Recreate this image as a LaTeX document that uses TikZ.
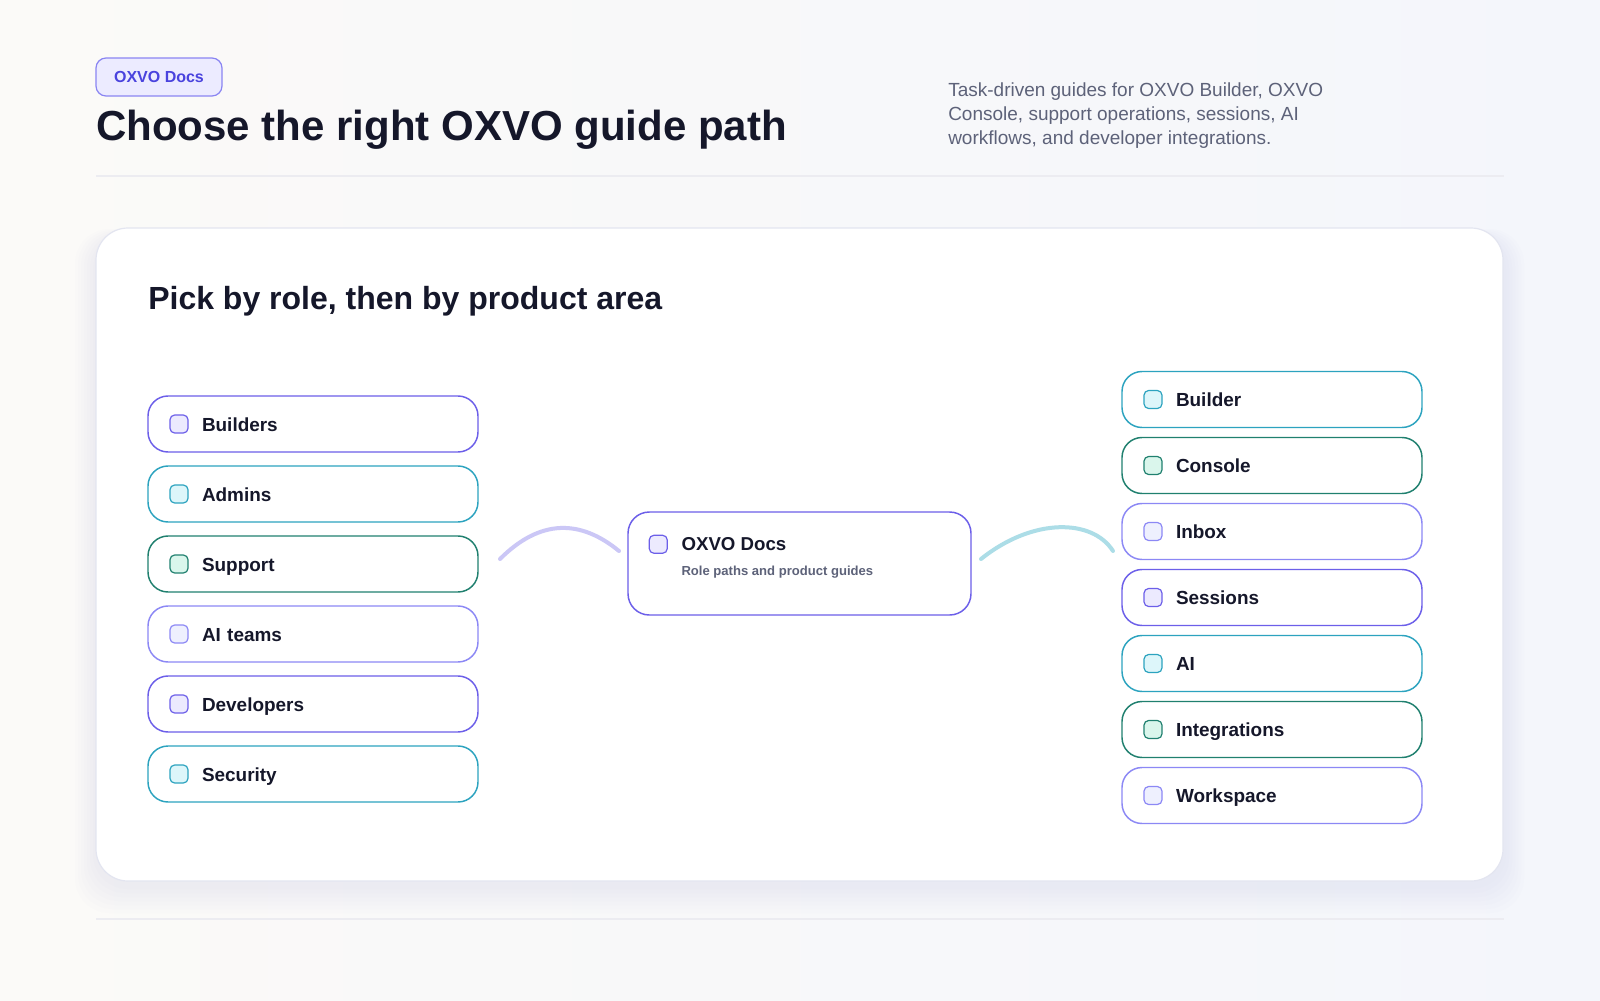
\documentclass[tikz,border=0pt]{standalone}
\usepackage{fontspec}
\setmainfont{Liberation Sans}
\usetikzlibrary{positioning}

\definecolor{ink}{HTML}{15172A}
\definecolor{muted}{HTML}{5D6279}
\definecolor{bgWarm}{HTML}{FBFAF8}
\definecolor{bgCool}{HTML}{F4F6FB}
\definecolor{hair}{HTML}{ECECF1}
\definecolor{cardLine}{HTML}{E3E5F0}
\definecolor{cardShade}{HTML}{C9CCE6}
\definecolor{badgeFill}{HTML}{ECEBFF}
\definecolor{badgeLine}{HTML}{8A85F2}
\definecolor{badgeText}{HTML}{4A43DE}
\definecolor{cIndigo}{HTML}{6C5FE9}
\definecolor{cIndigoFill}{HTML}{ECEAFE}
\definecolor{cLavender}{HTML}{8C88F5}
\definecolor{cLavenderFill}{HTML}{EEF0FE}
\definecolor{cAqua}{HTML}{2CA3BF}
\definecolor{cAquaFill}{HTML}{DDF6FA}
\definecolor{cTeal}{HTML}{20806F}
\definecolor{cTealFill}{HTML}{DAF6EC}
\definecolor{linkRole}{HTML}{CBC7F6}
\definecolor{linkArea}{HTML}{ACDDE7}

\tikzset{
  hairline/.style={draw=hair, line width=0.8pt},
  badge/.style={draw=badgeLine, fill=badgeFill, line width=0.9pt, rounded corners=7.5pt,
    minimum width=94.5pt, minimum height=28.5pt, inner sep=0pt, text=badgeText,
    font=\fontsize{12}{14}\selectfont\bfseries},
  pill/.style={draw=#1, fill=white, line width=1.1pt, rounded corners=15pt, anchor=west,
    minimum height=42pt, inner xsep=40.5pt, outer sep=0pt, align=left,
    text height=13.5pt, text depth=3pt,
    font=\fontsize{14.2}{17}\selectfont\bfseries, text=ink},
  role/.style={pill=#1, text width=166.5pt},
  area/.style={pill=#1, text width=144pt},
  chip/.style 2 args={draw=#1, fill=#2, line width=0.9pt, rounded corners=3.5pt,
    minimum size=13.5pt, inner sep=0pt},
  link/.style={draw=#1, line width=3pt, line cap=round},
}

\begin{document}
\begin{tikzpicture}[x=0.75pt, y=-0.75pt]
  \useasboundingbox (0,0) rectangle (1600,1000);
  % Page background and rules
  \shade[left color=bgWarm, right color=bgCool] (0,0) rectangle (1600,1000);
  \draw[hairline] (96,176) -- (1504,176);
  \draw[hairline] (96,919) -- (1504,919);

  % Header
  \node[badge] (badge) at (159,77) {OXVO Docs};
  \node[anchor=base west, inner sep=0pt, text=ink, font=\fontsize{31.5}{36}\selectfont\bfseries] (title) at (96,140) {Choose the right OXVO guide path};
  \node[anchor=north west, inner sep=0pt, align=left, text=muted, font=\fontsize{14.25}{18}\selectfont] (intro) at (948,82.5)
    {Task-driven guides for OXVO Builder, OXVO\\Console, support operations, sessions, AI\\workflows, and developer integrations.};

  % Card with soft shadow
  \foreach \g in {1,...,7}
    \fill[cardShade, opacity=0.03, rounded corners=26pt] (96-3*\g,236-1*\g) rectangle (1503+3*\g,885+4*\g);
  \draw[cardLine, fill=white, line width=0.9pt, rounded corners=24pt] (96,228) rectangle (1503,881);
  \node[anchor=base west, inner sep=0pt, text=ink, font=\fontsize{24}{28}\selectfont\bfseries] (heading) at (148,309) {Pick by role, then by product area};

  % Roles
  \node[role=cIndigo] (builders) at (148,424) {Builders};
  \node[role=cAqua, below=10.5pt of builders] (admins) {Admins};
  \node[role=cTeal, below=10.5pt of admins] (support) {Support};
  \node[role=cLavender, below=10.5pt of support] (aiteams) {AI teams};
  \node[role=cIndigo, below=10.5pt of aiteams] (developers) {Developers};
  \node[role=cAqua, below=10.5pt of developers] (security) {Security};

  % Product areas
  \node[area=cAqua] (builder) at (1122,399.5) {Builder};
  \node[area=cTeal, below=7.5pt of builder] (console) {Console};
  \node[area=cLavender, below=7.5pt of console] (inbox) {Inbox};
  \node[area=cIndigo, below=7.5pt of inbox] (sessions) {Sessions};
  \node[area=cAqua, below=7.5pt of sessions] (ai) {AI};
  \node[area=cTeal, below=7.5pt of ai] (integrations) {Integrations};
  \node[area=cLavender, below=7.5pt of integrations] (workspace) {Workspace};

  % Chips
  \foreach \n/\c in {builders/cIndigo, admins/cAqua, support/cTeal, aiteams/cLavender,
      developers/cIndigo, security/cAqua, builder/cAqua, console/cTeal, inbox/cLavender,
      sessions/cIndigo, ai/cAqua, integrations/cTeal, workspace/cLavender}
    \node[chip={\c}{\c Fill}] at ([xshift=23.25pt]\n.west) {};

  % Hub
  \node[draw=cIndigo, fill=white, line width=1.1pt, rounded corners=16pt, minimum width=257.25pt, minimum height=77.25pt] (hub) at (799.5,563.5) {};
  \node[chip={cIndigo}{cIndigoFill}] (hubchip) at ([xshift=23.25pt, yshift=-24.75pt]hub.north west) {};
  \node[anchor=base west, inner sep=0pt, text=ink, font=\fontsize{14}{17}\selectfont\bfseries] (hubtitle) at ([xshift=40.5pt, yshift=-29.25pt]hub.north west) {OXVO Docs};
  \node[anchor=base west, inner sep=0pt, text=muted, font=\fontsize{9.8}{12}\selectfont\bfseries] (hubnote) at ([xshift=40.5pt, yshift=-48.5pt]hub.north west) {Role paths and product guides};

  % Links
  \coordinate (rolesout) at (500,559);
  \coordinate (hubin) at (619,551);
  \coordinate (hubout) at (981,559);
  \coordinate (areasin) at (1113,551);
  \draw[link=linkRole] (rolesout) .. controls (540,519) and (580,519) .. (hubin);
  \draw[link=linkArea] (hubout) .. controls (1032,518) and (1092,518) .. (areasin);
\end{tikzpicture}
\end{document}
